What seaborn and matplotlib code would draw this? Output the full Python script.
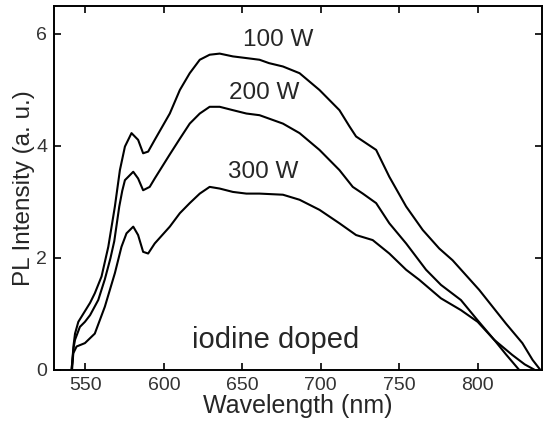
import seaborn as sns
import matplotlib.pyplot as plt
import pandas as pd

# wavelength (nm) / PL intensity (a. u.)
w100 = [541.2, 542.5, 543.4, 545.5, 549.7, 553, 556, 560.3, 564.6, 568.8, 572, 575.2, 579.4,
        583.6, 586.8, 590, 594.2, 603.8, 610.2, 616.5, 622.9, 629.2, 635.6, 644, 652.6, 661,
        667, 675.9, 686.5, 699.2, 711.9, 718.3, 722.5, 728.9, 735.3, 743.7, 754.4, 765,
        775.5, 784, 801, 818, 828.5, 835, 840]
i100 = [0, 0.45, 0.65, 0.86, 1.05, 1.2, 1.37, 1.67, 2.2, 2.92, 3.57, 3.99, 4.23,
        4.11, 3.87, 3.9, 4.11, 4.58, 5.0, 5.3, 5.54, 5.63, 5.65, 5.6, 5.57, 5.54,
        5.48, 5.42, 5.30, 5.0, 4.64, 4.35, 4.17, 4.05, 3.93, 3.45, 2.92, 2.5,
        2.17, 1.96, 1.43, 0.83, 0.48, 0.18, 0.0]

w200 = [541.2, 542.5, 543.4, 546.5, 549.7, 553, 558.2, 562.4, 566, 568.4, 571.6, 573.5,
        575.2, 580.5, 583.6, 586.8, 591, 594.2, 603.8, 610.2, 616.5, 622.9, 629.2, 635.6,
        644, 652.6, 661, 675.9, 686.5, 699.2, 711.9, 720.4, 726.8, 735.3, 743.7, 754.4,
        767.1, 776.6, 789.3, 799.9, 810.5, 818, 826.5]
i200 = [0, 0.4, 0.54, 0.77, 0.86, 0.98, 1.25, 1.62, 2.0, 2.3, 2.92, 3.2,
        3.39, 3.54, 3.42, 3.21, 3.27, 3.42, 3.85, 4.13, 4.4, 4.58, 4.70, 4.70,
        4.64, 4.58, 4.55, 4.40, 4.23, 3.93, 3.57, 3.27, 3.15, 2.98, 2.62, 2.26,
        1.79, 1.52, 1.25, 0.89, 0.54, 0.28, 0.0]

w300 = [541.5, 542.3, 544.4, 549.7, 556, 562.4, 568.8, 573, 576.2, 580.5, 583.6, 586.8,
        590, 594.2, 603.8, 610.2, 616.5, 622.9, 629.2, 635.6, 644, 652.6, 661, 675.9, 686.5,
        699.2, 711.9, 722.5, 733.1, 743.7, 754.4, 762.8, 776.6, 789.3, 800, 810.5, 822, 830,
        836.5]
i300 = [0, 0.3, 0.42, 0.48, 0.65, 1.13, 1.73, 2.2, 2.44, 2.56, 2.41, 2.11,
        2.08, 2.26, 2.56, 2.8, 2.98, 3.15, 3.27, 3.24, 3.18, 3.15, 3.15, 3.13, 3.04,
        2.86, 2.62, 2.41, 2.32, 2.08, 1.79, 1.61, 1.28, 1.07, 0.86, 0.54, 0.27, 0.1,
        0.0]

powers = ["100 W", "200 W", "300 W"]
label_pos = [(673, 5.89), (664, 4.95), (663, 3.54)]

sns.set_style("ticks")
plt.rcParams['font.family'] = ['Liberation Sans', 'DejaVu Sans']

frames = []
for p, w, i in zip(powers, [w100, w200, w300], [i100, i200, i300]):
    frames.append(pd.DataFrame({"wl": w, "pl": i, "power": p}))
df = pd.concat(frames, ignore_index=True)

fig = plt.figure(figsize=(5.43, 4.24), dpi=100)
ax = fig.add_axes([54 / 543, 1 - 370 / 424, 488 / 543, 364 / 424])

sns.lineplot(data=df, x="wl", y="pl", units="power", estimator=None, sort=False,
             color="black", linewidth=1.5, ax=ax)

for p, (x, y) in zip(powers, label_pos):
    ax.text(x, y, p, fontsize=17.5, ha="center", va="center")
ax.text(671.5, 0.54, "iodine doped", fontsize=21, ha="center", va="center")

ax.set_xlim(530, 841)
ax.set_ylim(0, 6.5)
ax.set_xticks([550, 600, 650, 700, 750, 800])
ax.set_yticks([0, 2, 4, 6])
ax.tick_params(direction="in", length=5, width=1.2, labelsize=14, pad=5,
               top=True, right=True, colors="black", labelcolor="#333333")
for s in ax.spines.values():
    s.set_linewidth(1.4)
    s.set_color("black")
ax.set_xlabel("Wavelength (nm)", fontsize=18, labelpad=0)
ax.set_ylabel("PL Intensity (a. u.)", fontsize=17.5, labelpad=1)

fig.savefig("out.png", dpi=100)
